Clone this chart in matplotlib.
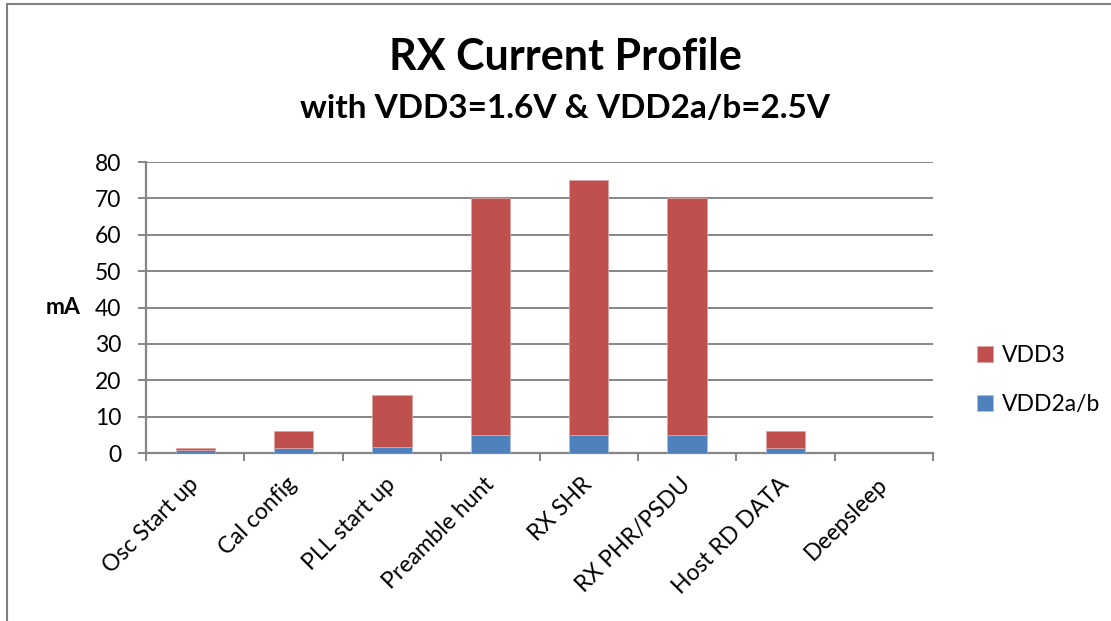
import numpy as np
import matplotlib.pyplot as plt
from matplotlib.patches import Rectangle

plt.rcParams['font.family'] = ['Lato', 'DejaVu Sans']

stages = ['Osc Start up', 'Cal config', 'PLL start up', 'Preamble hunt',
          'RX SHR', 'RX PHR/PSDU', 'Host RD DATA', 'Deepsleep']
vdd2ab = [0.7, 1.5, 1.6, 5.0, 5.0, 5.0, 1.5, 0.0]
vdd3 = [0.8, 4.5, 14.4, 65.0, 70.0, 65.0, 4.5, 0.0]

red = '#C0504D'
blue = '#4F81BD'
grey = '#868686'
fs = 16.5

fig = plt.figure(figsize=(11.11, 6.21), dpi=100)
# chart area border (left and top edges visible)
fig.patches.append(Rectangle((7 / 1111, -0.1), 1.2, 1 - 4 / 621 + 0.1,
                             transform=fig.transFigure, fill=False,
                             edgecolor='#7f7f7f', linewidth=1.5))

ax = fig.add_axes([146 / 1111, 1 - 453 / 621, 787 / 1111, 291 / 621])
x = np.arange(len(stages))
b1 = ax.bar(x, vdd2ab, width=0.4, color=blue, edgecolor='#a9c0de',
            linewidth=0.6, label='VDD2a/b', zorder=3)
b2 = ax.bar(x, vdd3, width=0.4, bottom=vdd2ab, color=red,
            edgecolor='#dca3a1', linewidth=0.6, label='VDD3', zorder=3)

ax.set_xlim(-0.5, len(stages) - 0.5)
ax.set_ylim(0, 80)
ax.set_yticks(np.arange(0, 81, 10))
ax.yaxis.grid(True, color=grey, linewidth=1.4, zorder=0)
ax.tick_params(axis='y', length=6, width=1.4, color=grey, pad=12,
               labelsize=fs)

ax.set_xticks(np.arange(len(stages) + 1) - 0.5)
ax.set_xticklabels([])
ax.tick_params(axis='x', which='major', length=6, width=1.4, color=grey)
ax.set_xticks(x, minor=True)
ax.set_xticklabels(stages, minor=True, rotation=45, ha='right',
                   va='center', rotation_mode='anchor', fontsize=fs)
ax.tick_params(axis='x', which='minor', length=0, pad=20)

for side in ['top', 'right']:
    ax.spines[side].set_visible(False)
for side in ['left', 'bottom']:
    ax.spines[side].set_color(grey)
    ax.spines[side].set_linewidth(1.6)

ax.set_ylabel('mA', rotation=0, fontsize=fs, fontweight='bold',
              va='center', ha='center')
ax.yaxis.set_label_coords(-0.105, 0.5)

fig.text(565 / 1111, 1 - 57 / 621, 'RX Current Profile', ha='center',
         va='center', fontsize=31, fontweight='bold')
fig.text(565 / 1111, 1 - 108 / 621, 'with VDD3=1.6V & VDD2a/b=2.5V',
         ha='center', va='center', fontsize=24, fontweight='bold')

ax.legend([b2, b1], ['VDD3', 'VDD2a/b'], loc='center left',
          bbox_to_anchor=(956 / 1111, 1 - 380 / 621),
          bbox_transform=fig.transFigure, frameon=False, fontsize=fs,
          handlelength=0.7, handleheight=0.7, handletextpad=0.4,
          labelspacing=1.2)

fig.savefig('out.png', dpi=100)
